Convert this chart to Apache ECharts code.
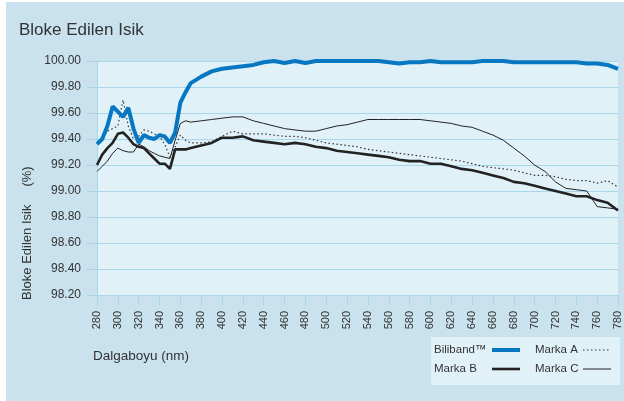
<!DOCTYPE html>
<html>
<head>
<meta charset="utf-8">
<script src="https://cdn.jsdelivr.net/npm/echarts@6/dist/echarts.min.js"></script>
<style>
  html, body { margin: 0; padding: 0; background: #ffffff; }
  #wrap { position: relative; width: 624px; height: 401px; }
  #bg { position: absolute; left: 6px; top: 2px; right: 0; bottom: 0; background: #c9e2ee; }
  #chart { position: absolute; left: 0; top: 0; width: 624px; height: 401px; }
</style>
</head>
<body>
<div id="wrap"><div id="bg"></div><div id="chart"></div></div>
<script>
// ---- data ----
const wavelengths = [280,285,290,295,300,305,310,315,320,325,330,335,340,345,350,355,360,365,370,
  380,390,400,410,420,430,440,450,460,470,480,490,500,510,520,530,540,550,560,570,580,590,600,
  610,620,630,640,650,660,670,680,690,700,710,720,730,740,750,760,770,780];

const biliband = [99.36,99.40,99.50,99.65,99.61,99.57,99.64,99.48,99.37,99.43,99.41,99.40,99.43,99.42,99.37,99.45,99.68,99.76,99.83,
  99.88,99.92,99.94,99.95,99.96,99.97,99.99,100.00,99.985,100.00,99.985,100.00,100.00,100.00,100.00,100.00,100.00,100.00,99.99,99.98,99.99,99.99,100.00,
  99.99,99.99,99.99,99.99,100.00,100.00,100.00,99.99,99.99,99.99,99.99,99.99,99.99,99.99,99.98,99.98,99.97,99.94];

const markaA = [99.37,99.41,99.46,99.48,99.50,99.70,99.50,99.40,99.42,99.47,99.46,99.44,99.42,99.36,99.26,99.34,99.43,99.39,99.37,
  99.37,99.38,99.42,99.46,99.44,99.44,99.44,99.43,99.42,99.42,99.41,99.39,99.37,99.36,99.35,99.34,99.32,99.31,99.30,99.29,99.28,99.27,99.26,
  99.25,99.24,99.23,99.21,99.19,99.18,99.17,99.16,99.14,99.12,99.12,99.11,99.09,99.08,99.08,99.06,99.08,99.03];

const markaB = [99.20,99.28,99.33,99.37,99.44,99.45,99.41,99.36,99.34,99.33,99.29,99.25,99.21,99.21,99.17,99.32,99.32,99.32,99.33,
  99.35,99.37,99.41,99.41,99.42,99.39,99.38,99.37,99.36,99.37,99.36,99.34,99.33,99.31,99.30,99.29,99.28,99.27,99.26,99.24,99.23,99.23,99.21,
  99.21,99.19,99.17,99.16,99.14,99.12,99.10,99.07,99.06,99.04,99.02,99.00,98.98,98.96,98.96,98.93,98.91,98.85];

const markaC = [99.15,99.19,99.23,99.29,99.33,99.31,99.30,99.30,99.36,99.34,99.31,99.29,99.27,99.26,99.25,99.39,99.52,99.54,99.53,
  99.54,99.55,99.56,99.57,99.57,99.54,99.52,99.50,99.48,99.47,99.46,99.46,99.48,99.50,99.51,99.53,99.55,99.55,99.55,99.55,99.55,99.55,99.54,
  99.53,99.52,99.50,99.49,99.46,99.43,99.39,99.33,99.27,99.20,99.15,99.07,99.02,99.01,99.00,98.88,98.87,98.86];

const seriesNames = ['Biliband\u2122', 'Marka A', 'Marka B', 'Marka C'];
const xMin = 280, xMax = 780, xStep = 20;
const yMin = 98.2, yMax = 100, yStep = 0.2;
const titleText = 'Bloke Edilen Isik';
const yAxisTitle = 'Bloke Edilen Isik     (%)';
const xAxisTitle = 'Dalgaboyu (nm)';

// ---- chart ----
const FONT = '"Liberation Sans", Arial, sans-serif';
const TXT = '#333333';
const GRIDC = '#a9d7ea';
const pairs = arr => wavelengths.map((w, i) => [w, arr[i]]);

function legendCol(names, left, textW) {
  return {
    data: names,
    orient: 'vertical', left: left, top: 344, padding: 0,
    align: 'right', itemWidth: 28, itemHeight: 14, itemGap: 7,
    lineStyle: { width: 'inherit' },
    itemStyle: { opacity: 0, borderWidth: 0 },
    formatter: '{a|{name}}',
    textStyle: { color: TXT, fontSize: 11.5, fontFamily: FONT,
      rich: { a: { width: textW, align: 'left', color: TXT, fontSize: 11.5, fontFamily: FONT } } }
  };
}

const chart = echarts.init(document.getElementById('chart'), null, { renderer: 'canvas' });
chart.setOption({
  backgroundColor: 'transparent',
  animation: false,
  textStyle: { fontFamily: FONT },
  grid: {
    left: 97, right: 6, top: 61, bottom: 106,
    show: true, backgroundColor: '#e1f1f8', borderWidth: 0
  },
  xAxis: {
    type: 'value', min: xMin, max: xMax, interval: xStep,
    axisLine: { show: true, lineStyle: { color: GRIDC, width: 1 } },
    axisTick: { show: true, length: 10, lineStyle: { color: GRIDC } },
    splitLine: { show: false },
    axisLabel: { rotate: 90, margin: 16, fontSize: 11, color: TXT, fontFamily: FONT,
      showMinLabel: true, showMaxLabel: true }
  },
  yAxis: {
    type: 'value', min: yMin, max: yMax, interval: yStep,
    axisLine: { show: true, lineStyle: { color: GRIDC, width: 1 } },
    axisTick: { show: true, length: 10, lineStyle: { color: GRIDC } },
    splitLine: { show: true, lineStyle: { color: GRIDC, width: 1 } },
    axisLabel: { margin: 16, fontSize: 12, color: TXT, fontFamily: FONT,
      formatter: v => Number(v).toFixed(2) }
  },
  legend: [
    legendCol([seriesNames[0], seriesNames[2]], 434, 53),
    legendCol([seriesNames[1], seriesNames[3]], 535, 43)
  ],
  graphic: [
    { type: 'rect', left: 431, top: 337, z: -1, shape: { width: 189, height: 48 },
      style: { fill: '#e1f1f8' }, silent: true },
    { type: 'text', left: 19, top: 22, style: { text: titleText, fontSize: 17, fill: TXT, fontFamily: FONT } },
    { type: 'text', left: 93, top: 349, style: { text: xAxisTitle, fontSize: 13.5, fill: TXT, fontFamily: FONT } },
    { type: 'text', x: 34, y: 300, rotation: Math.PI / 2,
      style: { text: yAxisTitle, fontSize: 13, fill: TXT, fontFamily: FONT, align: 'left', verticalAlign: 'bottom' } }
  ],
  series: [
    { name: seriesNames[1], type: 'line', data: pairs(markaA), symbol: 'none', z: 2,
      lineStyle: { color: '#333333', width: 1.2, type: [1.5, 2.5] }, itemStyle: { color: '#333333' } },
    { name: seriesNames[3], type: 'line', data: pairs(markaC), symbol: 'none', z: 2,
      lineStyle: { color: '#222222', width: 1 }, itemStyle: { color: '#222222' } },
    { name: seriesNames[2], type: 'line', data: pairs(markaB), symbol: 'none', z: 3,
      lineStyle: { color: '#222222', width: 2.6 }, itemStyle: { color: '#222222' } },
    { name: seriesNames[0], type: 'line', data: pairs(biliband), symbol: 'none', z: 4,
      lineStyle: { color: '#0677c0', width: 4 }, itemStyle: { color: '#0677c0' } }
  ]
});
</script>
</body>
</html>
